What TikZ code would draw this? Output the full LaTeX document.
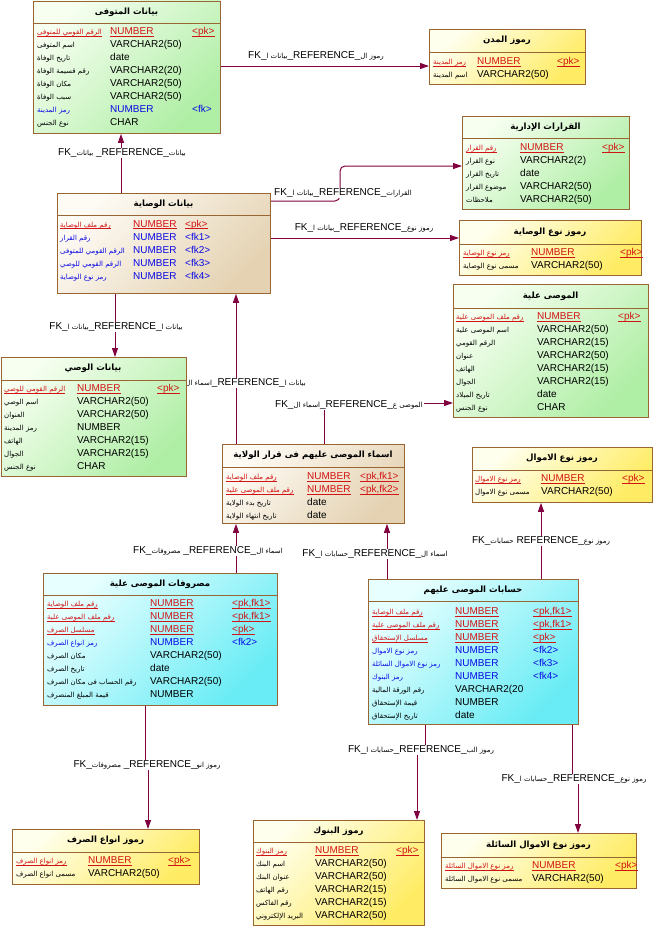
\documentclass[tikz,border=0pt]{standalone}
\usepackage{fontspec}
\setmainfont{Liberation Sans}
\newfontfamily\arabicfont[Script=Arabic]{DejaVu Sans}
\TeXXeTstate=1
\usetikzlibrary{arrows.meta}
\pgfdeclarelayer{back}
\pgfsetlayers{back,main}

\definecolor{brd}{RGB}{153,102,51}
\definecolor{relcol}{RGB}{128,0,64}
\definecolor{pkred}{RGB}{210,20,20}
\definecolor{fkblue}{RGB}{10,10,230}
\definecolor{grA}{RGB}{246,255,240}
\definecolor{grB}{RGB}{175,238,165}
\definecolor{yeA}{RGB}{255,255,238}
\definecolor{yeB}{RGB}{255,236,100}
\definecolor{cyA}{RGB}{232,255,255}
\definecolor{cyB}{RGB}{105,236,245}
\definecolor{taA}{RGB}{254,251,245}
\definecolor{taB}{RGB}{228,210,178}

\newcommand{\ar}[1]{{\arabicfont\fontsize{7}{8}\selectfont #1}}
\newcommand{\art}[1]{{\arabicfont\bfseries\fontsize{8.6}{10}\selectfont #1}}

\tikzset{
    tbl/.style = {rectangle, draw=brd, line width=0.8pt, anchor=north west, inner sep=0pt},
    tblg/.style = {tbl, top color=grA, bottom color=grB, shading angle=45},
    tbly/.style = {tbl, top color=yeA, bottom color=yeB, shading angle=45},
    tblc/.style = {tbl, top color=cyA, bottom color=cyB, shading angle=45},
    tblt/.style = {tbl, top color=taA, bottom color=taB, shading angle=45},
    sepline/.style = {draw=brd, line width=0.8pt},
    ttl/.style = {inner sep=0pt},
    cell/.style = {anchor=base west, inner sep=0pt, font=\fontsize{10}{12}\selectfont},
    attr/.style = {cell, text=black},
    fk/.style = {cell, text=fkblue},
    pk/.style = {cell, text=pkred, append after command={\pgfextra{\let\LN\tikzlastnode}
        ([yshift=-1.6pt]\LN.base west) edge[draw=pkred, line width=0.6pt] ([yshift=-1.6pt]\LN.base east)}},
    rel/.style = {draw=relcol, line width=1pt, -{Triangle[length=9pt,width=6pt]}},
    rname/.style = {fill=white, inner sep=1pt, font=\fontsize{10}{11}\selectfont},
}

% rows of a table: prefix, x of name, x of type, x of key, first baseline, list
\newcommand{\tablerows}[6]{%
  \foreach \nm/\ty/\ky/\st [count=\i from 0] in {#6}{
    \node[\st] (#1-n\i) at (#2,#5+13*\i) {\ar{\nm}};
    \node[\st] (#1-t\i) at (#3,#5+13*\i) {\ty};
    \edef\tmp{\ky}
    \ifx\tmp\empty\else\node[\st] (#1-k\i) at (#4,#5+13*\i) {\ky};\fi
  }}

\begin{document}
\begin{tikzpicture}[x=1pt,y=-1pt]
%
\begin{pgfonlayer}{back}
\path[use as bounding box, fill=white] (0,0) rectangle (656,926);
\end{pgfonlayer}
%
% بيانات المتوفى
\node[tblg, minimum width=187pt, minimum height=132.5pt] (mut) at (33,0.5) {};
\draw[sepline] ([yshift=-22.5pt]mut.north west) -- ([yshift=-22.5pt]mut.north east);
\node[ttl] (mut-h) at (126.5,12) {\art{\beginR بيانات المتوفى\endR}};
\tablerows{mut}{37}{110}{192}{34.6}{
  {\beginR الرقم القومي للمتوفى\endR}/NUMBER/{<pk>}/pk,
  {\beginR اسم المتوفى\endR}/VARCHAR2(50)//attr,
  {\beginR تاريخ الوفاة\endR}/date//attr,
  {\beginR رقم قسيمة الوفاة\endR}/VARCHAR2(20)//attr,
  {\beginR مكان الوفاة\endR}/VARCHAR2(50)//attr,
  {\beginR سبب الوفاة\endR}/VARCHAR2(50)//attr,
  {\beginR رمز المدينة\endR}/NUMBER/{<fk>}/fk,
  {\beginR نوع الجنس\endR}/CHAR//attr}
%
% رموز المدن
\node[tbly, minimum width=156pt, minimum height=55pt] (mudun) at (429,29) {};
\draw[sepline] ([yshift=-23pt]mudun.north west) -- ([yshift=-23pt]mudun.north east);
\node[ttl] (mudun-h) at (507,40.5) {\art{\beginR رموز المدن\endR}};
\tablerows{mudun}{433}{477}{557}{64.6}{
  {\beginR رمز المدينة\endR}/NUMBER/{<pk>}/pk,
  {\beginR اسم المدينة\endR}/VARCHAR2(50)//attr}
%
% القرارات الإدارية
\node[tblg, minimum width=167pt, minimum height=93pt] (qarar) at (462,116) {};
\draw[sepline] ([yshift=-22pt]qarar.north west) -- ([yshift=-22pt]qarar.north east);
\node[ttl] (qarar-h) at (545.5,127) {\art{\beginR القرارات الإدارية\endR}};
\tablerows{qarar}{466}{520}{602}{150.6}{
  {\beginR رقم القرار\endR}/NUMBER/{<pk>}/pk,
  {\beginR نوع القرار\endR}/VARCHAR2(2)//attr,
  {\beginR تاريخ القرار\endR}/date//attr,
  {\beginR موضوع القرار\endR}/VARCHAR2(50)//attr,
  {\beginR ملاحظات\endR}/VARCHAR2(50)//attr}
%
% رموز نوع الوصاية
\node[tbly, minimum width=182pt, minimum height=55pt] (nwas) at (459,220) {};
\draw[sepline] ([yshift=-24pt]nwas.north west) -- ([yshift=-24pt]nwas.north east);
\node[ttl] (nwas-h) at (550,232) {\art{\beginR رموز نوع الوصاية\endR}};
\tablerows{nwas}{463}{531}{620}{255.6}{
  {\beginR رمز نوع الوصاية\endR}/NUMBER/{<pk>}/pk,
  {\beginR مسمى نوع الوصاية\endR}/VARCHAR2(50)//attr}
%
% بيانات الوصاية
\node[tblt, minimum width=213pt, minimum height=100pt] (wasaya) at (57,193) {};
\draw[sepline] ([yshift=-22pt]wasaya.north west) -- ([yshift=-22pt]wasaya.north east);
\node[ttl] (wasaya-h) at (163.5,204) {\art{\beginR بيانات الوصاية\endR}};
\tablerows{wasaya}{60}{133}{185}{227}{
  {\beginR رقم ملف الوصاية\endR}/NUMBER/{<pk>}/pk,
  {\beginR رقم القرار\endR}/NUMBER/{<fk1>}/fk,
  {\beginR الرقم القومي للمتوفى\endR}/NUMBER/{<fk2>}/fk,
  {\beginR الرقم القومي للوصي\endR}/NUMBER/{<fk3>}/fk,
  {\beginR رمز نوع الوصاية\endR}/NUMBER/{<fk4>}/fk}
%
% بيانات الوصي
\node[tblg, minimum width=185.5pt, minimum height=119pt] (wasi) at (0.5,357) {};
\draw[sepline] ([yshift=-23pt]wasi.north west) -- ([yshift=-23pt]wasi.north east);
\node[ttl] (wasi-h) at (93,368.5) {\art{\beginR بيانات الوصي\endR}};
\tablerows{wasi}{4}{77}{157}{391.6}{
  {\beginR الرقم القومي للوصي\endR}/NUMBER/{<pk>}/pk,
  {\beginR اسم الوصي\endR}/VARCHAR2(50)//attr,
  {\beginR العنوان\endR}/VARCHAR2(50)//attr,
  {\beginR رمز المدينة\endR}/NUMBER//attr,
  {\beginR الهاتف\endR}/VARCHAR2(15)//attr,
  {\beginR الجوال\endR}/VARCHAR2(15)//attr,
  {\beginR نوع الجنس\endR}/CHAR//attr}
%
% الموصى علية
\node[tblg, minimum width=195pt, minimum height=133pt] (musa) at (453,284) {};
\draw[sepline] ([yshift=-24pt]musa.north west) -- ([yshift=-24pt]musa.north east);
\node[ttl] (musa-h) at (550.5,296) {\art{\beginR الموصى علية\endR}};
\tablerows{musa}{456}{537}{618}{319.6}{
  {\beginR رقم ملف الموصى علية\endR}/NUMBER/{<pk>}/pk,
  {\beginR اسم الموصى علية\endR}/VARCHAR2(50)//attr,
  {\beginR الرقم القومي\endR}/VARCHAR2(15)//attr,
  {\beginR عنوان\endR}/VARCHAR2(50)//attr,
  {\beginR الهاتف\endR}/VARCHAR2(15)//attr,
  {\beginR الجوال\endR}/VARCHAR2(15)//attr,
  {\beginR تاريخ الميلاد\endR}/date//attr,
  {\beginR نوع الجنس\endR}/CHAR//attr}
%
% اسماء الموصى عليهم فى قرار الولاية
\node[tblt, minimum width=182pt, minimum height=79pt] (asmaa) at (222,444) {};
\draw[sepline] ([yshift=-23pt]asmaa.north west) -- ([yshift=-23pt]asmaa.north east);
\node[ttl] (asmaa-h) at (313,455.5) {\art{\beginR اسماء الموصى عليهم  فى قرار الولاية\endR}};
\tablerows{asmaa}{226}{307}{360}{479.6}{
  {\beginR رقم ملف الوصاية\endR}/NUMBER/{<pk,fk1>}/pk,
  {\beginR رقم ملف الموصى علية\endR}/NUMBER/{<pk,fk2>}/pk,
  {\beginR تاريخ بدء الولاية\endR}/date//attr,
  {\beginR تاريخ انتهاء الولاية\endR}/date//attr}
%
% رموز نوع الاموال
\node[tbly, minimum width=180pt, minimum height=55pt] (nmal) at (472,447) {};
\draw[sepline] ([yshift=-23pt]nmal.north west) -- ([yshift=-23pt]nmal.north east);
\node[ttl] (nmal-h) at (562,458.5) {\art{\beginR رموز نوع الاموال\endR}};
\tablerows{nmal}{475}{541}{622}{481.6}{
  {\beginR رمز نوع الاموال\endR}/NUMBER/{<pk>}/pk,
  {\beginR مسمى نوع الاموال\endR}/VARCHAR2(50)//attr}
%
% مصروفات الموصى علية
\node[tblc, minimum width=234pt, minimum height=132pt] (masr) at (43,573) {};
\draw[sepline] ([yshift=-22pt]masr.north west) -- ([yshift=-22pt]masr.north east);
\node[ttl] (masr-h) at (160,584) {\art{\beginR مصروفات الموصى علية\endR}};
\tablerows{masr}{47}{150}{232}{606.6}{
  {\beginR رقم ملف الوصاية\endR}/NUMBER/{<pk,fk1>}/pk,
  {\beginR رقم ملف الموصى علية\endR}/NUMBER/{<pk,fk1>}/pk,
  {\beginR مسلسل الصرف\endR}/NUMBER/{<pk>}/pk,
  {\beginR رمز انواع الصرف\endR}/NUMBER/{<fk2>}/fk,
  {\beginR مكان الصرف\endR}/VARCHAR2(50)//attr,
  {\beginR تاريخ الصرف\endR}/date//attr,
  {\beginR رقم الحساب فى مكان الصرف\endR}/VARCHAR2(50)//attr,
  {\beginR قيمة المبلغ المنصرف\endR}/NUMBER//attr}
%
% حسابات الموصى عليهم
\node[tblc, minimum width=210pt, minimum height=145pt] (hesab) at (368,579) {};
\draw[sepline] ([yshift=-22pt]hesab.north west) -- ([yshift=-22pt]hesab.north east);
\node[ttl] (hesab-h) at (473,590) {\art{\beginR حسابات الموصى عليهم\endR}};
\tablerows{hesab}{372}{455}{533}{614.6}{
  {\beginR رقم ملف الوصاية\endR}/NUMBER/{<pk,fk1>}/pk,
  {\beginR رقم ملف الموصى علية\endR}/NUMBER/{<pk,fk1>}/pk,
  {\beginR مسلسل الإستحقاق\endR}/NUMBER/{<pk>}/pk,
  {\beginR رمز نوع الاموال\endR}/NUMBER/{<fk2>}/fk,
  {\beginR رمز نوع الاموال السائلة\endR}/NUMBER/{<fk3>}/fk,
  {\beginR رمز البنوك\endR}/NUMBER/{<fk4>}/fk,
  {\beginR رقم الورقة المالية\endR}/VARCHAR2(20//attr,
  {\beginR قيمة الإستحقاق\endR}/NUMBER//attr,
  {\beginR تاريخ الإستحقاق\endR}/date//attr}
%
% رموز انواع الصرف
\node[tbly, minimum width=187pt, minimum height=55pt] (sarf) at (12,829) {};
\draw[sepline] ([yshift=-23pt]sarf.north west) -- ([yshift=-23pt]sarf.north east);
\node[ttl] (sarf-h) at (105.5,840.5) {\art{\beginR رموز انواع الصرف\endR}};
\tablerows{sarf}{16}{88}{168}{863.6}{
  {\beginR رمز انواع الصرف\endR}/NUMBER/{<pk>}/pk,
  {\beginR مسمى انواع الصرف\endR}/VARCHAR2(50)//attr}
%
% رموز البنوك
\node[tbly, minimum width=171pt, minimum height=104.5pt] (bunuk) at (253,820) {};
\draw[sepline] ([yshift=-22pt]bunuk.north west) -- ([yshift=-22pt]bunuk.north east);
\node[ttl] (bunuk-h) at (338.5,831) {\art{\beginR رموز البنوك\endR}};
\tablerows{bunuk}{256}{315}{396}{853.6}{
  {\beginR رمز البنوك\endR}/NUMBER/{<pk>}/pk,
  {\beginR اسم البنك\endR}/VARCHAR2(50)//attr,
  {\beginR عنوان البنك\endR}/VARCHAR2(50)//attr,
  {\beginR رقم الهاتف\endR}/VARCHAR2(15)//attr,
  {\beginR رقم الفاكس\endR}/VARCHAR2(15)//attr,
  {\beginR البريد الإلكتروني\endR}/VARCHAR2(50)//attr}
%
% رموز نوع الاموال السائلة
\node[tbly, minimum width=195pt, minimum height=55pt] (saila) at (441,833) {};
\draw[sepline] ([yshift=-24pt]saila.north west) -- ([yshift=-24pt]saila.north east);
\node[ttl] (saila-h) at (538.5,845) {\art{\beginR رموز نوع الاموال السائلة\endR}};
\tablerows{saila}{445}{532}{615}{868.6}{
  {\beginR رمز نوع الاموال السائلة\endR}/NUMBER/{<pk>}/pk,
  {\beginR مسمى نوع الاموال السائلة\endR}/VARCHAR2(50)//attr}
%
% references
\begin{pgfonlayer}{back}
\draw[rel] (mut.east |- 0,66) -- (mudun.west |- 0,66);
\draw[rel, rounded corners=5pt] (wasaya.east |- 0,201) -- (340,201) -- (340,166) -- (qarar.west |- 0,166);
\draw[rel] (wasaya.east |- 0,238) -- (nwas.west |- 0,238);
\draw[rel] (wasaya.north -| 121,0) -- (mut.south -| 121,0);
\draw[rel] (wasaya.south -| 115,0) -- (wasi.north -| 115,0);
\draw[rel] (asmaa.north -| 236,0) -- (wasaya.south -| 236,0);
\draw[rel] (asmaa.north -| 324,0) -- (324,403) -- (musa.west |- 0,403);
\draw[rel] (masr.north -| 236,0) -- (asmaa.south -| 236,0);
\draw[rel] (hesab.north -| 387,0) -- (asmaa.south -| 387,0);
\draw[rel] (hesab.north -| 541,0) -- (nmal.south -| 541,0);
\draw[rel] (masr.south -| 145,0) -- (145,765) -- (148,765) -- (sarf.north -| 148,0);
\draw[rel] (hesab.south -| 425,0) -- (425,750) -- (417,750) -- (bunuk.north -| 417,0);
\draw[rel] (hesab.south -| 572,0) -- (572,779) -- (578,779) -- (saila.north -| 578,0);
%
\node[rname] (lab1) at (122,153) {FK\_\ar{\beginR بيانات\endR} \_REFERENCE\_\ar{\beginR بيانات\endR}};
\node[rname] (lab2) at (316,56) {FK\_\ar{\beginR بيانات ا\endR}\_REFERENCE\_\ar{\beginR رموز ال\endR}};
\node[rname] (lab3) at (343,193) {FK\_\ar{\beginR بيانات ا\endR}\_REFERENCE\_\ar{\beginR القرارات\endR}};
\node[rname] (lab4) at (364,228) {FK\_\ar{\beginR بيانات ا\endR}\_REFERENCE\_\ar{\beginR رموز نوع\endR}};
\node[rname] (lab5) at (116,327) {FK\_\ar{\beginR بيانات ا\endR}\_REFERENCE\_\ar{\beginR بيانات ا\endR}};
\node[rname, anchor=east] (lab6) at (307,383) {FK\_\ar{\beginR اسماء ال\endR}\_REFERENCE\_\ar{\beginR بيانات ا\endR}};
\node[rname] (lab7) at (349,405) {FK\_\ar{\beginR اسماء ال\endR}\_REFERENCE\_\ar{\beginR الموصى ع\endR}};
\node[rname] (lab8) at (208,551) {FK\_\ar{\beginR مصروفات\endR} \_REFERENCE\_\ar{\beginR اسماء ال\endR}};
\node[rname] (lab9) at (375,554) {FK\_\ar{\beginR حسابات ا\endR}\_REFERENCE\_\ar{\beginR اسماء ال\endR}};
\node[rname] (lab10) at (541,541) {FK\_\ar{\beginR حسابات\endR} REFERENCE\_\ar{\beginR رموز نوع\endR}};
\node[rname] (lab11) at (147,765) {FK\_\ar{\beginR مصروفات\endR} \_REFERENCE\_\ar{\beginR رموز انو\endR}};
\node[rname] (lab12) at (421,750) {FK\_\ar{\beginR حسابات ا\endR}\_REFERENCE\_\ar{\beginR رموز الب\endR}};
\node[rname] (lab13) at (574,779) {FK\_\ar{\beginR حسابات ا\endR}\_REFERENCE\_\ar{\beginR رموز نوع\endR}};
\end{pgfonlayer}

\end{tikzpicture}
\end{document}
